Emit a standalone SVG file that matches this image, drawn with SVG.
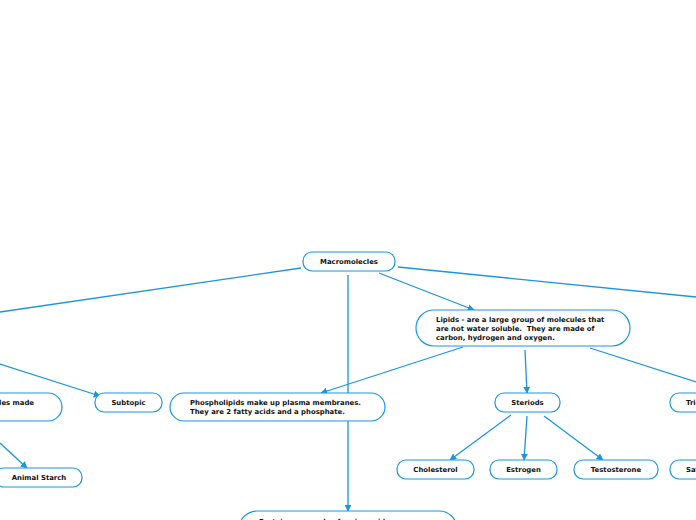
<svg xmlns="http://www.w3.org/2000/svg" width="696" height="520" viewBox="0 0 696 520">
<defs>
<marker id="ah" viewBox="0 0 10 10" refX="9" refY="5" markerWidth="7" markerHeight="7" markerUnits="userSpaceOnUse" orient="auto">
<path d="M0,0 L10,5 L0,10 z" fill="#1a96e0"/>
</marker>
<style>
.n{fill:#fff;stroke:#1a96e0;stroke-width:1.2}
.t{font-family:"DejaVu Sans",Verdana,sans-serif;font-weight:bold;font-size:6.9px;fill:#111;white-space:pre}
.c{text-anchor:middle}
.l{fill:none;stroke:#1a96e0;stroke-width:1.3}
</style>
</defs>
<rect width="696" height="520" fill="#fff"/>
<g id="connectors">
<line class="l" x1="301" y1="268" x2="0" y2="312"/>
<line class="l" x1="398" y1="267" x2="696" y2="297"/>
<line class="l" x1="379" y1="273" x2="474" y2="310" marker-end="url(#ah)"/>
<line class="l" x1="348" y1="275" x2="348" y2="511" marker-end="url(#ah)"/>
<line class="l" x1="0" y1="364" x2="100" y2="396" marker-end="url(#ah)"/>
<line class="l" x1="0" y1="443" x2="27" y2="468" marker-end="url(#ah)"/>
<line class="l" x1="463" y1="347" x2="321" y2="393" marker-end="url(#ah)"/>
<line class="l" x1="525" y1="350" x2="527" y2="393" marker-end="url(#ah)"/>
<line class="l" x1="590" y1="348" x2="696" y2="382"/>
<line class="l" x1="511" y1="415" x2="450" y2="460" marker-end="url(#ah)"/>
<line class="l" x1="527" y1="416" x2="524" y2="460" marker-end="url(#ah)"/>
<line class="l" x1="544" y1="416" x2="603" y2="460" marker-end="url(#ah)"/>
</g>
<g id="macromolecles">
<rect class="n" x="303" y="252" width="92" height="19" rx="9"/>
<text class="t c" x="349" y="264">Macromolecles</text>
</g>
<g id="lipids">
<rect class="n" x="416" y="310" width="214" height="36" rx="18"/>
<text class="t" x="436" y="322" xml:space="preserve">Lipids - are a large group of molecules that</text>
<text class="t" x="436" y="331" xml:space="preserve">are not water soluble.  They are made of</text>
<text class="t" x="436" y="340">carbon, hydrogen and oxygen.</text>
</g>
<g id="carbohydrates">
<rect class="n" x="-120" y="393" width="182" height="28" rx="14"/>
<text class="t" x="34" y="405" text-anchor="end">Carbohydrates are molecules made</text>
</g>
<g id="subtopic">
<rect class="n" x="95" y="393" width="67" height="19" rx="9"/>
<text class="t c" x="128.5" y="405">Subtopic</text>
</g>
<g id="phospholipids">
<rect class="n" x="170" y="393" width="215" height="28" rx="14"/>
<text class="t" x="190" y="405">Phospholipids make up plasma membranes.</text>
<text class="t" x="190" y="413.5">They are 2 fatty acids and a phosphate.</text>
</g>
<g id="animal-starch">
<rect class="n" x="-5" y="468" width="87" height="19" rx="9"/>
<text class="t c" x="39" y="480">Animal Starch</text>
</g>
<g id="steriods">
<rect class="n" x="495" y="393" width="65" height="19" rx="9"/>
<text class="t c" x="527.5" y="405">Steriods</text>
</g>
<g id="triglycerides">
<rect class="n" x="670" y="393" width="90" height="19" rx="9"/>
<text class="t" x="686" y="405">Triglycerides</text>
</g>
<g id="cholesterol">
<rect class="n" x="397" y="460" width="77" height="19" rx="9"/>
<text class="t c" x="435.5" y="472">Cholesterol</text>
</g>
<g id="estrogen">
<rect class="n" x="490" y="460" width="67" height="19" rx="9"/>
<text class="t c" x="523.5" y="472">Estrogen</text>
</g>
<g id="testosterone">
<rect class="n" x="574" y="460" width="84" height="19" rx="9"/>
<text class="t c" x="616" y="472">Testosterone</text>
</g>
<g id="saturated">
<rect class="n" x="670" y="460" width="90" height="19" rx="9"/>
<text class="t" x="686" y="472">Saturated</text>
</g>
<g id="proteins">
<rect class="n" x="239" y="511" width="218" height="36" rx="18"/>
<text class="t" x="259" y="523.5">Proteins are made of amino acids</text>
</g>
</svg>
